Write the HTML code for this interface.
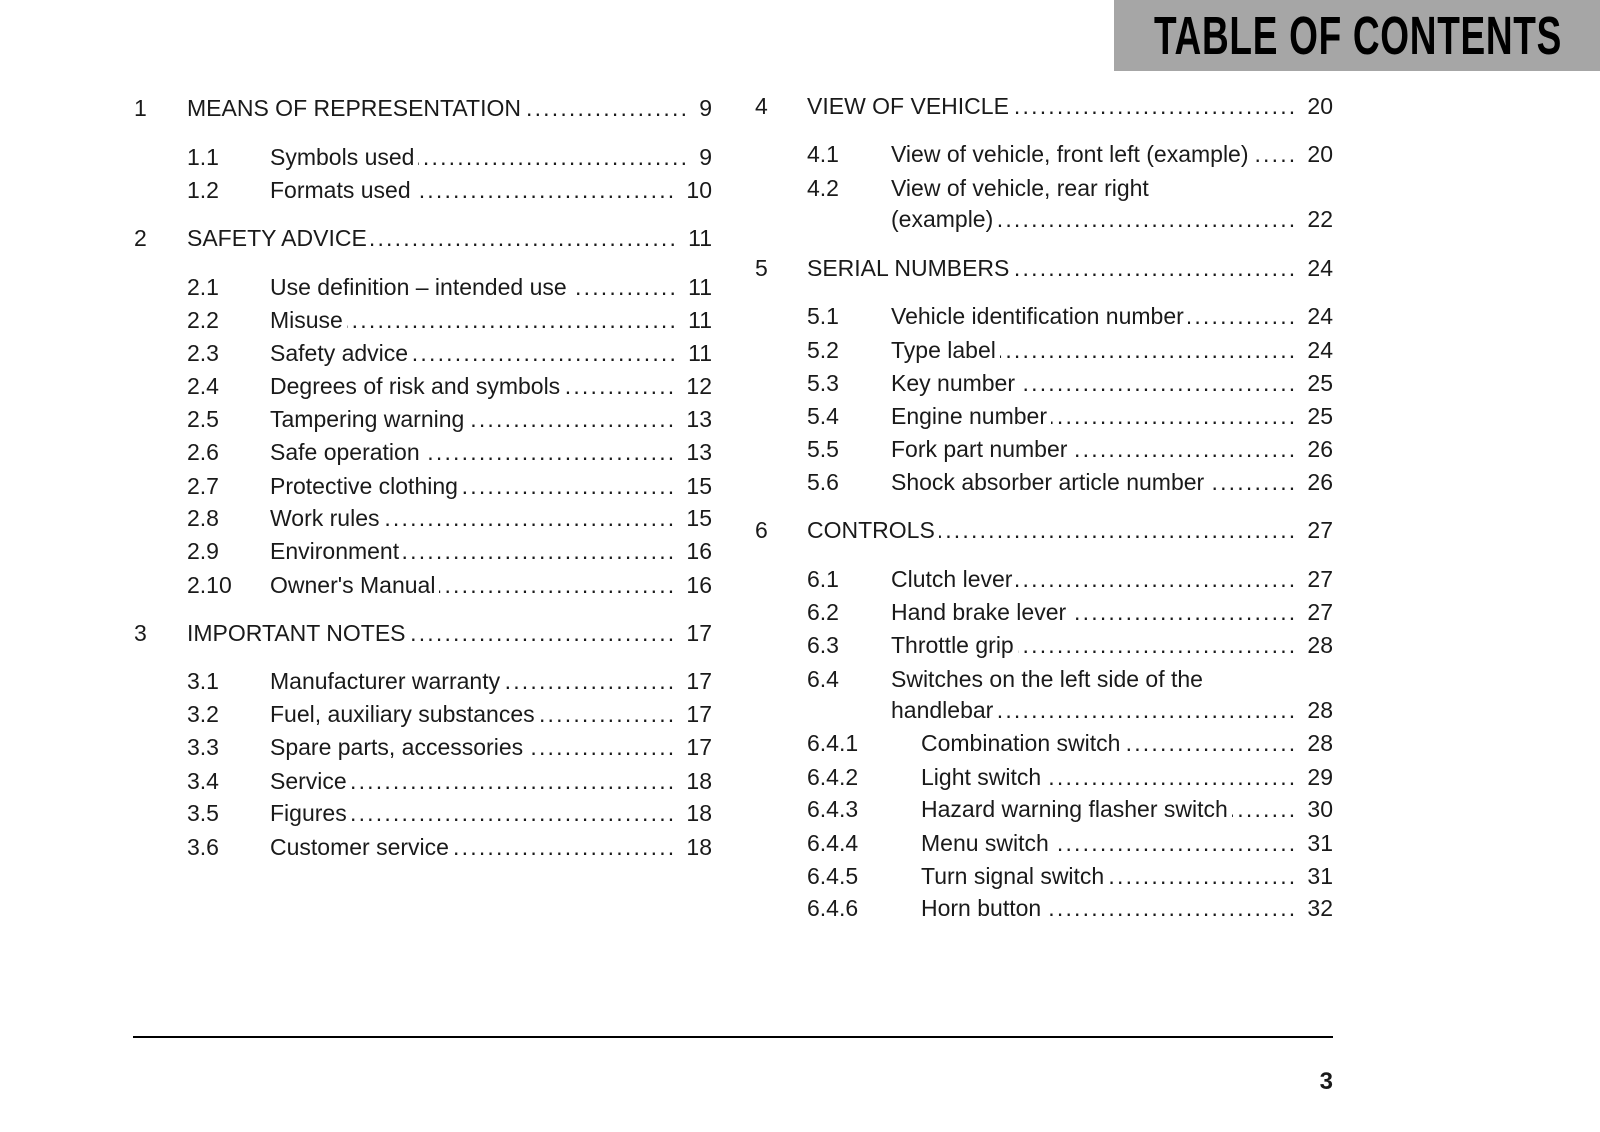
<!DOCTYPE html>
<html><head><meta charset="utf-8"><style>
html,body{margin:0;padding:0;background:#fff;}
body{width:1600px;height:1132px;position:relative;overflow:hidden;font-family:"Liberation Sans",sans-serif;color:#1a1a1a;}
.hdr{position:absolute;left:1114px;top:0;width:486px;height:71px;background:#a6a6a6;}
.hdr span{position:absolute;left:40px;top:6px;font-family:"Liberation Sans Narrow","Liberation Sans",sans-serif;font-weight:bold;font-size:54px;line-height:60px;color:#000;white-space:nowrap;display:inline-block;transform-origin:0 0;letter-spacing:1px;}
.r{position:absolute;height:30px;line-height:30px;font-size:23px;display:flex;white-space:nowrap;}
.n{position:absolute;top:0;}
.t{flex:none;}
.d{flex:1;overflow:hidden;margin:0 10px 0 4px;direction:rtl;}
.d::before{content:"....................................................................................................................................................................................................";letter-spacing:2.2px;}
.p{flex:none;}
.rule{position:absolute;left:133px;top:1036px;width:1200px;height:2px;background:#000;}
.pg{position:absolute;right:267px;top:1068px;font-weight:bold;font-size:24px;}
</style></head><body>
<div class="hdr"><span id="tt">TABLE OF CONTENTS</span></div>

<div class="r" style="left:187px;width:525px;top:93px"><span class="n" style="left:-53px">1</span><span class="t">MEANS OF REPRESENTATION</span><span class="d"></span><span class="p">9</span></div>
<div class="r" style="left:270px;width:442px;top:142px"><span class="n" style="left:-83px">1.1</span><span class="t">Symbols used</span><span class="d"></span><span class="p">9</span></div>
<div class="r" style="left:270px;width:442px;top:175px"><span class="n" style="left:-83px">1.2</span><span class="t">Formats used</span><span class="d"></span><span class="p">10</span></div>
<div class="r" style="left:187px;width:525px;top:223px"><span class="n" style="left:-53px">2</span><span class="t">SAFETY ADVICE</span><span class="d"></span><span class="p">11</span></div>
<div class="r" style="left:270px;width:442px;top:272px"><span class="n" style="left:-83px">2.1</span><span class="t">Use definition – intended use</span><span class="d"></span><span class="p">11</span></div>
<div class="r" style="left:270px;width:442px;top:305px"><span class="n" style="left:-83px">2.2</span><span class="t">Misuse</span><span class="d"></span><span class="p">11</span></div>
<div class="r" style="left:270px;width:442px;top:338px"><span class="n" style="left:-83px">2.3</span><span class="t">Safety advice</span><span class="d"></span><span class="p">11</span></div>
<div class="r" style="left:270px;width:442px;top:371px"><span class="n" style="left:-83px">2.4</span><span class="t">Degrees of risk and symbols</span><span class="d"></span><span class="p">12</span></div>
<div class="r" style="left:270px;width:442px;top:404px"><span class="n" style="left:-83px">2.5</span><span class="t">Tampering warning</span><span class="d"></span><span class="p">13</span></div>
<div class="r" style="left:270px;width:442px;top:437px"><span class="n" style="left:-83px">2.6</span><span class="t">Safe operation</span><span class="d"></span><span class="p">13</span></div>
<div class="r" style="left:270px;width:442px;top:471px"><span class="n" style="left:-83px">2.7</span><span class="t">Protective clothing</span><span class="d"></span><span class="p">15</span></div>
<div class="r" style="left:270px;width:442px;top:503px"><span class="n" style="left:-83px">2.8</span><span class="t">Work rules</span><span class="d"></span><span class="p">15</span></div>
<div class="r" style="left:270px;width:442px;top:536px"><span class="n" style="left:-83px">2.9</span><span class="t">Environment</span><span class="d"></span><span class="p">16</span></div>
<div class="r" style="left:270px;width:442px;top:570px"><span class="n" style="left:-83px">2.10</span><span class="t">Owner's Manual</span><span class="d"></span><span class="p">16</span></div>
<div class="r" style="left:187px;width:525px;top:618px"><span class="n" style="left:-53px">3</span><span class="t">IMPORTANT NOTES</span><span class="d"></span><span class="p">17</span></div>
<div class="r" style="left:270px;width:442px;top:666px"><span class="n" style="left:-83px">3.1</span><span class="t">Manufacturer warranty</span><span class="d"></span><span class="p">17</span></div>
<div class="r" style="left:270px;width:442px;top:699px"><span class="n" style="left:-83px">3.2</span><span class="t">Fuel, auxiliary substances</span><span class="d"></span><span class="p">17</span></div>
<div class="r" style="left:270px;width:442px;top:732px"><span class="n" style="left:-83px">3.3</span><span class="t">Spare parts, accessories</span><span class="d"></span><span class="p">17</span></div>
<div class="r" style="left:270px;width:442px;top:766px"><span class="n" style="left:-83px">3.4</span><span class="t">Service</span><span class="d"></span><span class="p">18</span></div>
<div class="r" style="left:270px;width:442px;top:798px"><span class="n" style="left:-83px">3.5</span><span class="t">Figures</span><span class="d"></span><span class="p">18</span></div>
<div class="r" style="left:270px;width:442px;top:832px"><span class="n" style="left:-83px">3.6</span><span class="t">Customer service</span><span class="d"></span><span class="p">18</span></div>

<div class="r" style="left:807px;width:526px;top:91px"><span class="n" style="left:-52px">4</span><span class="t">VIEW OF VEHICLE</span><span class="d"></span><span class="p">20</span></div>
<div class="r" style="left:891px;width:442px;top:139px"><span class="n" style="left:-84px">4.1</span><span class="t">View of vehicle, front left (example)</span><span class="d"></span><span class="p">20</span></div>
<div class="r" style="left:891px;width:442px;top:173px"><span class="n" style="left:-84px">4.2</span><span class="t">View of vehicle, rear right</span></div>
<div class="r" style="left:891px;width:442px;top:204px"><span class="t">(example)</span><span class="d"></span><span class="p">22</span></div>
<div class="r" style="left:807px;width:526px;top:253px"><span class="n" style="left:-52px">5</span><span class="t">SERIAL NUMBERS</span><span class="d"></span><span class="p">24</span></div>
<div class="r" style="left:891px;width:442px;top:301px"><span class="n" style="left:-84px">5.1</span><span class="t">Vehicle identification number</span><span class="d"></span><span class="p">24</span></div>
<div class="r" style="left:891px;width:442px;top:335px"><span class="n" style="left:-84px">5.2</span><span class="t">Type label</span><span class="d"></span><span class="p">24</span></div>
<div class="r" style="left:891px;width:442px;top:368px"><span class="n" style="left:-84px">5.3</span><span class="t">Key number</span><span class="d"></span><span class="p">25</span></div>
<div class="r" style="left:891px;width:442px;top:401px"><span class="n" style="left:-84px">5.4</span><span class="t">Engine number</span><span class="d"></span><span class="p">25</span></div>
<div class="r" style="left:891px;width:442px;top:434px"><span class="n" style="left:-84px">5.5</span><span class="t">Fork part number</span><span class="d"></span><span class="p">26</span></div>
<div class="r" style="left:891px;width:442px;top:467px"><span class="n" style="left:-84px">5.6</span><span class="t">Shock absorber article number</span><span class="d"></span><span class="p">26</span></div>
<div class="r" style="left:807px;width:526px;top:515px"><span class="n" style="left:-52px">6</span><span class="t">CONTROLS</span><span class="d"></span><span class="p">27</span></div>
<div class="r" style="left:891px;width:442px;top:564px"><span class="n" style="left:-84px">6.1</span><span class="t">Clutch lever</span><span class="d"></span><span class="p">27</span></div>
<div class="r" style="left:891px;width:442px;top:597px"><span class="n" style="left:-84px">6.2</span><span class="t">Hand brake lever</span><span class="d"></span><span class="p">27</span></div>
<div class="r" style="left:891px;width:442px;top:630px"><span class="n" style="left:-84px">6.3</span><span class="t">Throttle grip</span><span class="d"></span><span class="p">28</span></div>
<div class="r" style="left:891px;width:442px;top:664px"><span class="n" style="left:-84px">6.4</span><span class="t">Switches on the left side of the</span></div>
<div class="r" style="left:891px;width:442px;top:695px"><span class="t">handlebar</span><span class="d"></span><span class="p">28</span></div>
<div class="r" style="left:921px;width:412px;top:728px"><span class="n" style="left:-114px">6.4.1</span><span class="t">Combination switch</span><span class="d"></span><span class="p">28</span></div>
<div class="r" style="left:921px;width:412px;top:762px"><span class="n" style="left:-114px">6.4.2</span><span class="t">Light switch</span><span class="d"></span><span class="p">29</span></div>
<div class="r" style="left:921px;width:412px;top:794px"><span class="n" style="left:-114px">6.4.3</span><span class="t">Hazard warning flasher switch</span><span class="d"></span><span class="p">30</span></div>
<div class="r" style="left:921px;width:412px;top:828px"><span class="n" style="left:-114px">6.4.4</span><span class="t">Menu switch</span><span class="d"></span><span class="p">31</span></div>
<div class="r" style="left:921px;width:412px;top:861px"><span class="n" style="left:-114px">6.4.5</span><span class="t">Turn signal switch</span><span class="d"></span><span class="p">31</span></div>
<div class="r" style="left:921px;width:412px;top:893px"><span class="n" style="left:-114px">6.4.6</span><span class="t">Horn button</span><span class="d"></span><span class="p">32</span></div>

<div class="rule"></div>
<div class="pg">3</div>
<script>
var t=document.getElementById('tt');var w=t.getBoundingClientRect().width;t.style.transform='scaleX('+(408/w)+')';
</script>
</body></html>
